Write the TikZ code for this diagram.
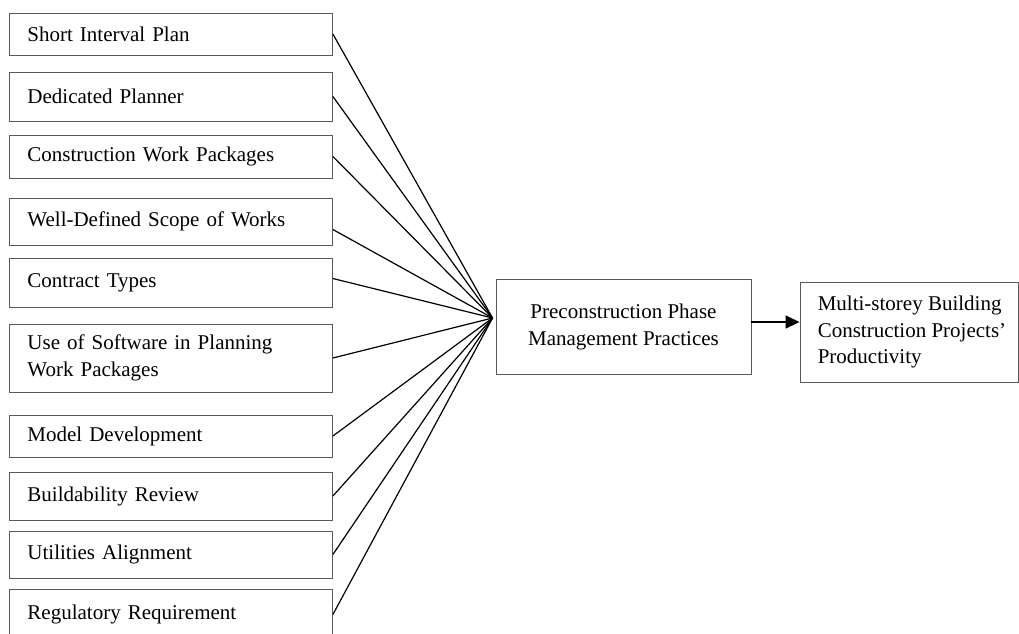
\documentclass[tikz,border=0pt]{standalone}
\usepackage{fontspec}
\setmainfont{Liberation Serif}
\usetikzlibrary{arrows.meta}
\begin{document}
\begin{tikzpicture}[x=1pt,y=-1pt,
  txt/.style={font=\fontsize{21}{26.5}\selectfont},
  factor/.style={txt, draw=black!65, line width=0.9pt, anchor=west,
    minimum width=323pt, text width=287pt, inner xsep=18pt, inner ysep=0pt,
    align=left},
  practice/.style={txt, draw=black!65, line width=0.9pt, minimum width=255pt,
    minimum height=95pt, align=center, inner sep=0pt},
  outbox/.style={draw=black!65, line width=0.9pt, minimum width=218pt,
    minimum height=100pt, inner sep=0pt},
  link/.style={line width=1.2pt, black},
  flow/.style={line width=1.6pt, black, -{Triangle[length=14pt,width=13pt]}}]
\useasboundingbox (0,0) rectangle (1019,633);
\clip (0,0) rectangle (1019,633);

% factors on the left
\node[factor, minimum height=42pt] (f1)  at (9,34)    {Short Interval Plan};
\node[factor, minimum height=49pt] (f2)  at (9,96.5)  {Dedicated Planner};
\node[factor, minimum height=43pt] (f3)  at (9,156.5) {Construction Work Packages};
\node[factor, minimum height=47pt] (f4)  at (9,221.5) {Well-Defined Scope of Works};
\node[factor, minimum height=49pt] (f5)  at (9,282.5) {Contract Types};
\node[factor, minimum height=68pt] (f6)  at (9,358)   {Use of Software in Planning\\Work Packages};
\node[factor, minimum height=42pt] (f7)  at (9,436)   {Model Development};
\node[factor, minimum height=48pt] (f8)  at (9,496)   {Buildability Review};
\node[factor, minimum height=47pt] (f9)  at (9,554.5) {Utilities Alignment};
\node[factor, minimum height=51pt] (f10) at (9,614.5) {Regulatory Requirement};

% central construct and outcome
\node[practice] (pp) at (623.5,327) {Preconstruction Phase\\Management Practices};
\node[outbox] (out) at (909,332) {};
\node[txt, anchor=west, align=left, inner sep=0pt] (outtext) at ([xshift=18pt]out.west)
  {Multi-storey Building\\Construction Projects'\\Productivity};

% all factors meet at one point left of the central box
\coordinate (hub) at ([xshift=-3pt,yshift=9pt]pp.west);
\foreach \f in {f1,f2,f3,f6,f7,f8,f9,f10}
  \draw[link] (\f.east) -- (hub);
\draw[link] ([yshift=-8pt]f4.east) -- (hub);
\draw[link] ([yshift=4pt]f5.east) -- (hub);

% effect on productivity
\coordinate (a) at ([yshift=5pt]pp.east);
\draw[flow] (a) -- (a -| out.west);
\end{tikzpicture}
\end{document}
